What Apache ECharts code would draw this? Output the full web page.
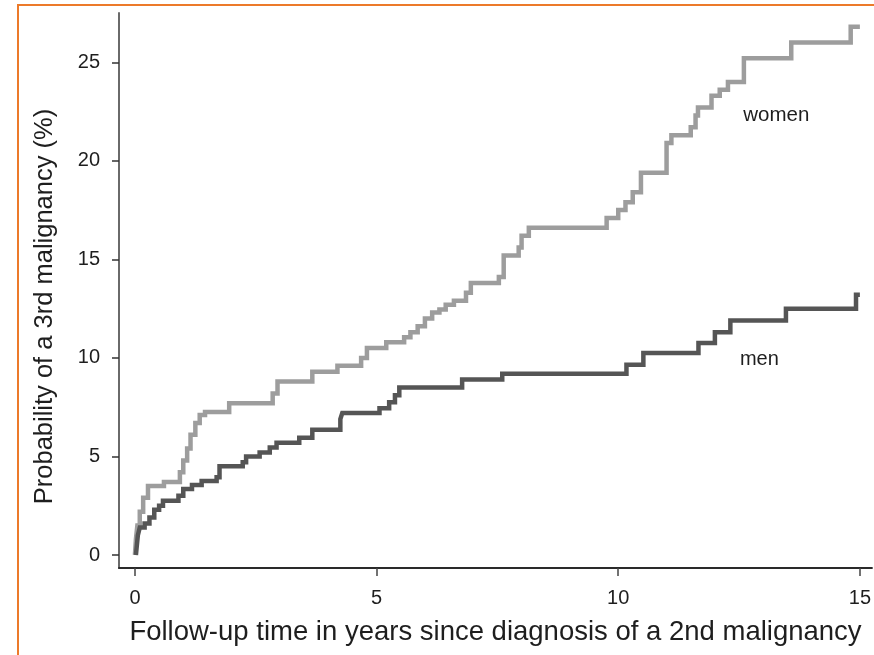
<!DOCTYPE html>
<html>
<head>
<meta charset="utf-8">
<script src="https://cdn.jsdelivr.net/npm/echarts@6/dist/echarts.min.js"></script>
<style>
  html, body { margin: 0; padding: 0; background: #fff; }
  #frame {
    position: absolute; left: 0; top: 0; width: 874px; height: 655px;
    overflow: hidden;
  }
  #border {
    position: absolute; left: 17px; top: 4px; width: 900px; height: 700px;
    border-left: 2px solid #ec7a2a; border-top: 2px solid #ec7a2a;
  }
  #chart { position: absolute; left: 0; top: 0; width: 874px; height: 655px; }
</style>
</head>
<body>
<div id="frame">
  <div id="border"></div>
  <div id="chart"></div>
</div>
<script>
// Cumulative probability of a 3rd malignancy (%) by follow-up year.
// Each pair is [time in years, probability reached at that time].
const womenTimes = [0, 0.02, 0.05, 0.10, 0.17, 0.27, 0.60, 0.93, 1.00, 1.08, 1.15, 1.25, 1.34, 1.45, 1.95,
  2.85, 2.95, 3.67, 4.19, 4.68, 4.80, 5.20, 5.57, 5.70, 5.85, 6.00, 6.15, 6.30, 6.43, 6.60, 6.85, 6.95,
  7.53, 7.63, 7.94, 8.00, 8.15, 9.76, 10.00, 10.15, 10.30, 10.47, 11.00, 11.10, 11.50, 11.60, 11.65,
  11.93, 12.10, 12.27, 12.60, 13.58, 14.81, 15.00];
const womenValues = [0, 0.8, 1.5, 2.2, 2.9, 3.5, 3.7, 4.2, 4.8, 5.4, 6.1, 6.7, 7.1, 7.25, 7.7,
  8.2, 8.8, 9.3, 9.6, 10.0, 10.5, 10.8, 11.05, 11.3, 11.6, 12.0, 12.3, 12.45, 12.7, 12.9, 13.3, 13.8,
  14.1, 15.2, 15.6, 16.2, 16.6, 17.1, 17.5, 17.9, 18.4, 19.4, 20.9, 21.3, 21.7, 22.3, 22.7,
  23.3, 23.6, 24.0, 25.2, 26.0, 26.8, 26.8];

const menTimes = [0.02, 0.04, 0.06, 0.10, 0.20, 0.30, 0.40, 0.50, 0.58, 0.90, 1.00, 1.18, 1.38, 1.69,
  1.75, 2.23, 2.30, 2.58, 2.79, 2.93, 3.40, 3.67, 4.25, 4.29, 5.06, 5.26, 5.38, 5.47, 6.77, 7.60,
  10.17, 10.52, 11.66, 12.00, 12.32, 13.47, 14.92, 15.00];
const menValues = [0, 0.5, 1.0, 1.4, 1.6, 1.9, 2.3, 2.5, 2.75, 3.0, 3.35, 3.55, 3.75, 3.95,
  4.5, 4.7, 5.0, 5.2, 5.45, 5.7, 5.95, 6.35, 6.9, 7.2, 7.45, 7.75, 8.1, 8.5, 8.9, 9.2,
  9.65, 10.25, 10.75, 11.3, 11.9, 12.5, 13.2, 13.2];

const xTicks = [0, 5, 10, 15];
const yTicks = [0, 5, 10, 15, 20, 25];

const seriesNames = ['women', 'men'];
const nameAnchors = [[13.27, 22.3], [12.92, 9.9]];

const pair = (ts, vs) => ts.map((t, i) => [t, vs[i]]);

const textColor = '#1e1e1e';
const font = 'Liberation Sans, Arial, sans-serif';

const chart = echarts.init(document.getElementById('chart'), null, { renderer: 'canvas' });

chart.setOption({
  backgroundColor: 'transparent',
  animation: false,
  grid: { left: 119, right: 0, top: 13, bottom: 87, containLabel: false },
  xAxis: {
    type: 'value',
    min: -0.33, max: 15.25,
    name: 'Follow-up time in years since diagnosis of a 2nd malignancy',
    nameLocation: 'middle',
    nameGap: 50,
    nameTextStyle: { fontFamily: font, fontSize: 27.5, color: textColor },
    axisLine: { show: true, onZero: false, lineStyle: { color: '#2a2a2a', width: 2 } },
    axisTick: { show: true, length: 8, customValues: xTicks, lineStyle: { color: '#444', width: 1.5 } },
    axisLabel: { customValues: xTicks, margin: 20, fontFamily: font, fontSize: 20, color: textColor },
    splitLine: { show: false }
  },
  yAxis: {
    type: 'value',
    min: -0.66, max: 27.5,
    name: 'Probability of a 3rd malignancy (%)',
    nameLocation: 'middle',
    nameGap: 61,
    nameRotate: 90,
    nameTextStyle: { fontFamily: font, fontSize: 25.5, color: textColor, padding: [0, 32, 0, 0] },
    axisLine: { show: true, onZero: false, lineStyle: { color: '#6a6a6a', width: 2 } },
    axisTick: { show: true, length: 7, customValues: yTicks, lineStyle: { color: '#333', width: 1.5 } },
    axisLabel: { customValues: yTicks, margin: 19, fontFamily: font, fontSize: 20, color: textColor },
    splitLine: { show: false }
  },
  series: [
    {
      name: seriesNames[0],
      type: 'line',
      step: 'end',
      showSymbol: false,
      symbol: 'none',
      data: pair(womenTimes, womenValues),
      lineStyle: { color: '#9d9d9d', width: 4.5, join: 'miter' },
      markPoint: {
        symbol: 'circle', symbolSize: 0,
        label: { show: true, formatter: seriesNames[0], fontFamily: font, fontSize: 20.5, color: textColor },
        data: [{ coord: nameAnchors[0] }]
      }
    },
    {
      name: seriesNames[1],
      type: 'line',
      step: 'end',
      showSymbol: false,
      symbol: 'none',
      data: pair(menTimes, menValues),
      lineStyle: { color: '#555555', width: 4.5, join: 'miter' },
      markPoint: {
        symbol: 'circle', symbolSize: 0,
        label: { show: true, formatter: seriesNames[1], fontFamily: font, fontSize: 20, color: textColor },
        data: [{ coord: nameAnchors[1] }]
      }
    }
  ]
});
</script>
</body>
</html>
